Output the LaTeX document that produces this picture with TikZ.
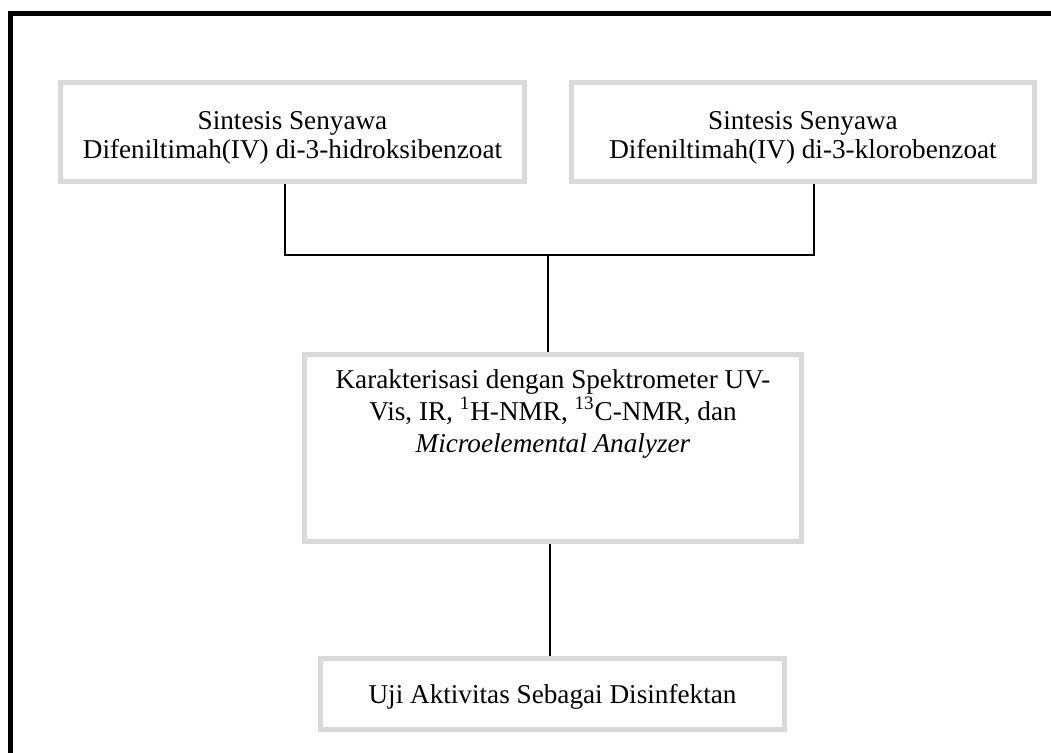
\documentclass[tikz,border=0pt]{standalone}
\usepackage{fontspec}
\setmainfont{Liberation Serif}
\definecolor{boxgray}{HTML}{D9D9D9}
\tikzset{
  flowbox/.style={draw=boxgray, line width=2.5pt, rectangle, inner sep=0pt},
  conn/.style={draw=black, line width=1pt},
  frameline/.style={draw=black, line width=2.5pt},
  txt/.style={align=center, font=\fontsize{13.6}{14.5}\selectfont, inner sep=0pt}
}
\begin{document}
\begin{tikzpicture}[x=0.5pt,y=-0.5pt]
\useasboundingbox (0,0) rectangle (1051,753);
\clip (0,0) rectangle (1051,753);
% outer frame (left and top visible)
\draw[frameline] (10.5,770) -- (10.5,13.5) -- (1070,13.5);
% boxes
\node[flowbox, minimum width=232pt, minimum height=49.5pt] (b1) at (292.5,132) {};
\node[txt] (b1t) at (292.5,138) {Sintesis Senyawa\\Difeniltimah(IV) di-3-hidroksibenzoat};
\node[flowbox, minimum width=231.5pt, minimum height=49.5pt] (b2) at (803,132) {};
\node[txt] (b2t) at (803,138) {Sintesis Senyawa\\Difeniltimah(IV) di-3-klorobenzoat};
\node[flowbox, minimum width=248.5pt, minimum height=93.5pt] (b3) at (553,448) {};
\node[txt, font=\fontsize{13.6}{16}\selectfont, anchor=north] (b3t) at (553,369) {Karakterisasi dengan Spektrometer UV-\\Vis, IR, \textsuperscript{1}H-NMR, \textsuperscript{13}C-NMR, dan\\\textit{Microelemental Analyzer}};
\node[flowbox, minimum width=232pt, minimum height=35.5pt] (b4) at (552.5,694) {};
\node[txt] (b4t) at (552.5,697) {Uji Aktivitas Sebagai Disinfektan};
% connectors
\coordinate (jl) at (285,255);
\coordinate (jr) at (814,255);
\coordinate (jm) at (548,255);
\coordinate (lc) at (550,600);
\draw[conn] (b1.south -| jl) -- (jl) -- (jr) -- (b2.south -| jr);
\draw[conn] (jm) -- (b3.north -| jm);
\draw[conn] (b3.south -| lc) -- (b4.north -| lc);
\end{tikzpicture}
\end{document}
